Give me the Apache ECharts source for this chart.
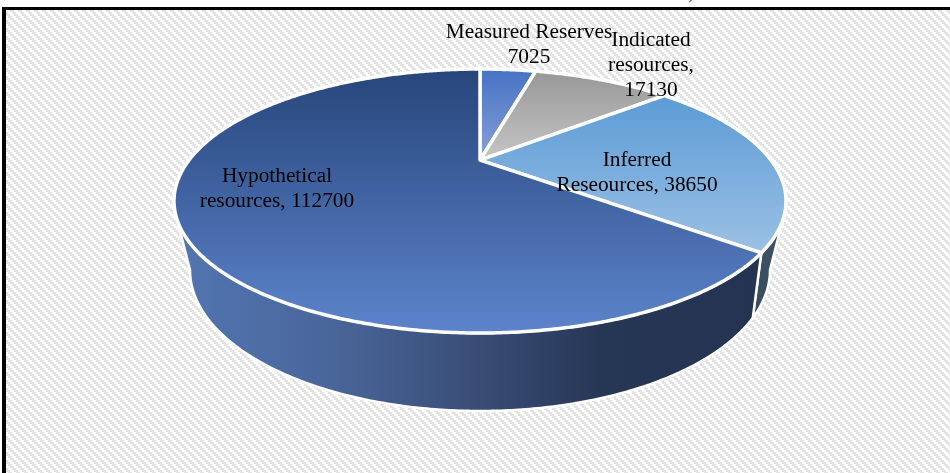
<!DOCTYPE html>
<html>
<head>
<meta charset="utf-8">
<style>html,body{margin:0;padding:0;background:#fff}#chart{width:950px;height:473px}</style>
<script src="https://cdn.jsdelivr.net/npm/echarts@6/dist/echarts.min.js"></script>
</head>
<body>
<div id="chart"></div>
<script>
var categories = ['Measured Reserves', 'Indicated resources', 'Inferred Reseources', 'Hypothetical resources'];
var reserveValues = [7025, 17130, 38650, 112700];
var labelFormats = ['Measured Reserves\n{v}', 'Indicated\nresources,\n{v}', 'Inferred\nReseources, {v}', 'Hypothetical\nresources, {v}'];

// label centres, picked by hand as in the original
var labelAt = [[529, 45], [651, 65], [637, 173], [277, 189]];
var topFace = { cx: 480, cy: 201, rx: 306, ry: 132, e: 0.31 };
var bottomFace = { cx: 480, cy: 270, rx: 290, ry: 141, e: 0.365 };
// wall only shows between these pie angles (degrees clockwise from 12 o'clock)
var wallRight = 111.4, wallLeft = 248.6;

var faceColors = [
    ['#4472c4', '#8aa0d8'],
    ['#979797', '#c6c6c6'],
    ['#5b9bd5', '#9dc1e5'],
    ['#26457a', '#5d84cc']
];

var total = reserveValues.reduce(function(a, b) { return a + b; }, 0);

// the pie is seen in perspective, so its middle sits above the centre of the ellipse
function project(face, deg) {
    var t = deg * Math.PI / 180;
    var den = 1 + face.e * Math.cos(t);
    return [
        face.cx + face.rx * Math.sin(t) * Math.sqrt(1 - face.e * face.e) / den,
        face.cy - face.ry * (Math.cos(t) + face.e) / den
    ];
}

function arc(face, from, to) {
    var pts = [], n = Math.ceil(Math.abs(to - from) * 2);
    for (var i = 0; i <= n; i++) pts.push(project(face, from + (to - from) * i / n));
    return pts;
}

function wall(from, to, fill) {
    return {
        type: 'polygon',
        shape: { points: arc(topFace, from, to).concat(arc(bottomFace, to, from)) },
        style: { fill: fill, stroke: '#fff', lineWidth: 2.5, lineJoin: 'round' }
    };
}

function tile() {
    var c = document.createElement('canvas');
    c.width = 8; c.height = 8;
    var g = c.getContext('2d');
    g.fillStyle = '#fff';
    g.fillRect(0, 0, 8, 8);
    g.fillStyle = '#e4e4e4';
    for (var y = 0; y < 8; y += 2) {
        for (var x = 0; x < 4; x += 2) g.fillRect((y + x) % 8, y, 2, 2);
    }
    return c;
}

var chart = echarts.init(document.getElementById('chart'));
chart.setOption({
    animation: false,
    graphic: [
        { type: 'rect', z: -1, shape: { x: 0, y: 0, width: 950, height: 473 }, style: { fill: { image: tile(), repeat: 'repeat' } } },
        { type: 'rect', z: -1, shape: { x: 0, y: 0, width: 950, height: 7 }, style: { fill: '#fff' } },
        { type: 'rect', z: -1, shape: { x: 0, y: 0, width: 2, height: 473 }, style: { fill: '#fff' } },
        { type: 'rect', z: -1, shape: { x: 2, y: 7, width: 948, height: 3 }, style: { fill: '#000' } },
        { type: 'rect', z: -1, shape: { x: 2, y: 7, width: 4, height: 466 }, style: { fill: '#000' } },
        // tail of a comma from the text above the crop
        { type: 'text', z: -1, style: { x: 688, y: -17, text: ',', font: '21px "Liberation Serif"', fill: '#333' } }
    ],
    series: [{
        type: 'custom',
        coordinateSystem: 'none',
        data: reserveValues,
        renderItem: function(params, api) {
            var i = params.dataIndex, start = 0;
            for (var k = 0; k < i; k++) start += reserveValues[k];
            var a0 = start / total * 360, a1 = (start + reserveValues[i]) / total * 360;
            var kids = [];

            // last slice carries the big wall, the one before it the sliver on the right
            if (i === 2) kids.push(wall(wallRight, a1, new echarts.graphic.LinearGradient(0, 0, 0, 1, [
                { offset: 0, color: '#3f5668' }, { offset: 1, color: '#3a4a5e' }
            ])));
            if (i === 3) kids.push(wall(a0, wallLeft, new echarts.graphic.LinearGradient(1, 0, 0, 0, [
                { offset: 0, color: '#243352' }, { offset: 0.27, color: '#263655' }, { offset: 0.5, color: '#3a4f78' },
                { offset: 0.75, color: '#4a679c' }, { offset: 1, color: '#5276b2' }
            ])));

            kids.push({
                type: 'polygon',
                shape: { points: arc(topFace, a0, a1).concat([[topFace.cx, topFace.cy - topFace.ry * topFace.e]]) },
                style: {
                    fill: new echarts.graphic.LinearGradient(0, 0, 0, 1, [
                        { offset: 0, color: faceColors[i][0] }, { offset: 1, color: faceColors[i][1] }
                    ]),
                    stroke: '#fff', lineWidth: 3.5, lineJoin: 'round'
                }
            });
            return { type: 'group', children: kids };
        },
        z: 2
    }, {
        type: 'custom',
        coordinateSystem: 'none',
        data: categories,
        z: 3,
        renderItem: function(params) {
            var i = params.dataIndex;
            return {
                type: 'text',
                style: {
                    x: labelAt[i][0], y: labelAt[i][1],
                    text: labelFormats[i].replace('{v}', reserveValues[i]),
                    font: '21.33px "Liberation Serif"',
                    lineHeight: 25,
                    fill: '#000',
                    align: 'center',
                    verticalAlign: 'middle'
                }
            };
        }
    }]
});
</script>
</body>
</html>
